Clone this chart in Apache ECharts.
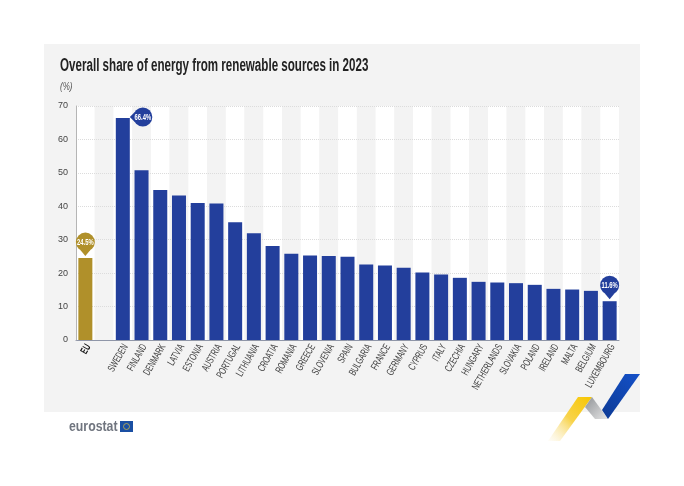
<!DOCTYPE html>
<html>
<head>
<meta charset="utf-8">
<style>
    html, body { margin: 0; padding: 0; background: #fff; }
    #chart { width: 684px; height: 486px; }
</style>
<script src="https://cdn.jsdelivr.net/npm/echarts@6/dist/echarts.min.js"></script>
</head>
<body>
<div id="chart"></div>
<script>
const categories = ['EU', '', 'SWEDEN', 'FINLAND', 'DENMARK', 'LATVIA', 'ESTONIA', 'AUSTRIA', 'PORTUGAL', 'LITHUANIA', 'CROATIA', 'ROMANIA', 'GREECE', 'SLOVENIA', 'SPAIN', 'BULGARIA', 'FRANCE', 'GERMANY', 'CYPRUS', 'ITALY', 'CZECHIA', 'HUNGARY', 'NETHERLANDS', 'SLOVAKIA', 'POLAND', 'IRELAND', 'MALTA', 'BELGIUM', 'LUXEMBOURG'];
const shares = [24.5, null, 66.4, 50.8, 44.9, 43.2, 41.0, 40.8, 35.2, 31.9, 28.1, 25.8, 25.3, 25.1, 24.9, 22.6, 22.3, 21.6, 20.2, 19.6, 18.6, 17.4, 17.2, 17.0, 16.5, 15.3, 15.1, 14.7, 11.6];
const calloutNames = ['EU', 'SWEDEN', 'LUXEMBOURG'];

const FONT = '"Liberation Sans", sans-serif';
const BLUE = '#233f9c';
const GOLD = '#b0902a';
// no condensed font available, so text is squeezed horizontally
const NARROW = 0.65;

const myChart = echarts.init(document.getElementById('chart'));

const renderCategoryLabel = (params, api) => {
    const name = categories[params.dataIndex];
    if (!name) return null;
    const pt = api.coord([api.value(0), 0]);
    const isEU = name === 'EU';
    return {
        type: 'text',
        x: pt[0] + 3,
        y: pt[1] + 5,
        rotation: Math.PI / 3,
        scaleX: NARROW,
        style: {
            text: name,
            align: 'right',
            verticalAlign: 'middle',
            font: (isEU ? 'bold ' : '') + '10.5px ' + FONT,
            fill: isEU ? '#111' : '#444'
        }
    };
};

const renderCallout = (params, api) => {
    const name = calloutNames[params.dataIndex];
    const value = api.value(1);
    const pt = api.coord([api.value(0), value]);
    const color = name === 'EU' ? GOLD : BLUE;
    const sideways = name === 'SWEDEN';
    const cx = sideways ? pt[0] + 20 : pt[0];
    const cy = sideways ? pt[1] - 1 : pt[1] - 16;
    const tip = sideways
        ? [[cx - 8, cy - 5], [cx - 13, cy], [cx - 8, cy + 5]]
        : [[cx - 5, cy + 8], [cx, cy + 14], [cx + 5, cy + 8]];
    return {
        type: 'group',
        children: [
            { type: 'polygon', shape: { points: tip }, style: { fill: color } },
            { type: 'circle', shape: { cx: cx, cy: cy, r: 9.5 }, style: { fill: color } },
            {
                type: 'text',
                x: cx,
                y: cy,
                scaleX: NARROW,
                style: {
                    text: value.toFixed(1) + '%',
                    align: 'center',
                    verticalAlign: 'middle',
                    font: 'bold 9px ' + FONT,
                    fill: '#fff'
                }
            }
        ]
    };
};

const option = {
    animation: false,
    backgroundColor: '#fff',
    grid: { left: 76, right: 65, top: 106, bottom: 146 },
    graphic: [
        // panel behind the plot
        { type: 'rect', z: -10, shape: { x: 44, y: 44, width: 596, height: 368 }, style: { fill: '#f3f3f3' } },
        { type: 'text', z: 10, x: 60, y: 57, scaleX: 0.645, style: { text: 'Overall share of energy from renewable sources in 2023', font: 'bold 18px ' + FONT, fill: '#222' } },
        { type: 'text', z: 10, x: 60, y: 82, scaleX: 0.8, style: { text: '(%)', font: 'italic 10px ' + FONT, fill: '#555' } },
        // eurostat logo
        { type: 'text', z: 10, x: 69, y: 419, scaleX: 0.82, style: { text: 'eurostat', font: 'bold 15px ' + FONT, fill: '#70757f' } },
        { type: 'rect', z: 10, shape: { x: 120, y: 421, width: 13, height: 11 }, style: { fill: '#1a4fa3' } },
        { type: 'circle', z: 11, shape: { cx: 126.5, cy: 426.5, r: 3 }, style: { fill: 'none', stroke: '#c9b44a', lineWidth: 0.8 } },
        // chevrons
        { type: 'polygon', z: 10, shape: { points: [[578, 397], [592, 397], [560, 441], [548, 441]] },
          style: { fill: { type: 'linear', x: 1, y: 0, x2: 0, y2: 1, colorStops: [{ offset: 0, color: '#f7c600' }, { offset: 0.5, color: '#f8d34a' }, { offset: 1, color: 'rgba(250,235,190,0.1)' }] } } },
        { type: 'polygon', z: 10, shape: { points: [[592, 397], [608, 419], [595, 419], [585, 407]] },
          style: { fill: { type: 'linear', x: 0, y: 0, x2: 1, y2: 1, colorStops: [{ offset: 0, color: '#8f9296' }, { offset: 1, color: '#e6e6e6' }] } } },
        { type: 'polygon', z: 10, shape: { points: [[625, 374], [640, 374], [608, 419], [602, 410]] },
          style: { fill: { type: 'linear', x: 1, y: 0, x2: 0, y2: 1, colorStops: [{ offset: 0, color: '#1450c8' }, { offset: 1, color: '#0d3a94' }] } } }
    ],
    xAxis: {
        type: 'category',
        data: categories,
        axisTick: { show: false },
        axisLabel: { show: false },
        axisLine: { lineStyle: { color: '#8f96a8', width: 1 } },
        splitArea: { show: true, interval: 0, areaStyle: { color: ['#ffffff', '#f3f3f3'] } }
    },
    yAxis: {
        type: 'value',
        // above the x axis bands, otherwise they hide the grid lines
        z: 1,
        min: 0,
        max: 70,
        interval: 10,
        axisLine: { show: true, lineStyle: { color: '#b5b5b5' } },
        axisTick: { show: false },
        axisLabel: { color: '#444', fontFamily: FONT, fontSize: 9, margin: 8 },
        splitLine: { showMinLine: false, lineStyle: { color: '#dcdcdc', type: 'dotted', width: 1 } }
    },
    series: [
        {
            type: 'bar',
            barWidth: 14,
            data: shares.map((v, i) => ({
                value: v,
                itemStyle: { color: categories[i] === 'EU' ? GOLD : BLUE }
            }))
        },
        {
            type: 'custom',
            silent: true,
            clip: false,
            renderItem: renderCategoryLabel,
            data: categories.map((name) => [name, 0])
        },
        {
            type: 'custom',
            silent: true,
            clip: false,
            z: 5,
            renderItem: renderCallout,
            data: calloutNames.map((name) => [name, shares[categories.indexOf(name)]])
        }
    ]
};
myChart.setOption(option);
</script>
</body>
</html>
